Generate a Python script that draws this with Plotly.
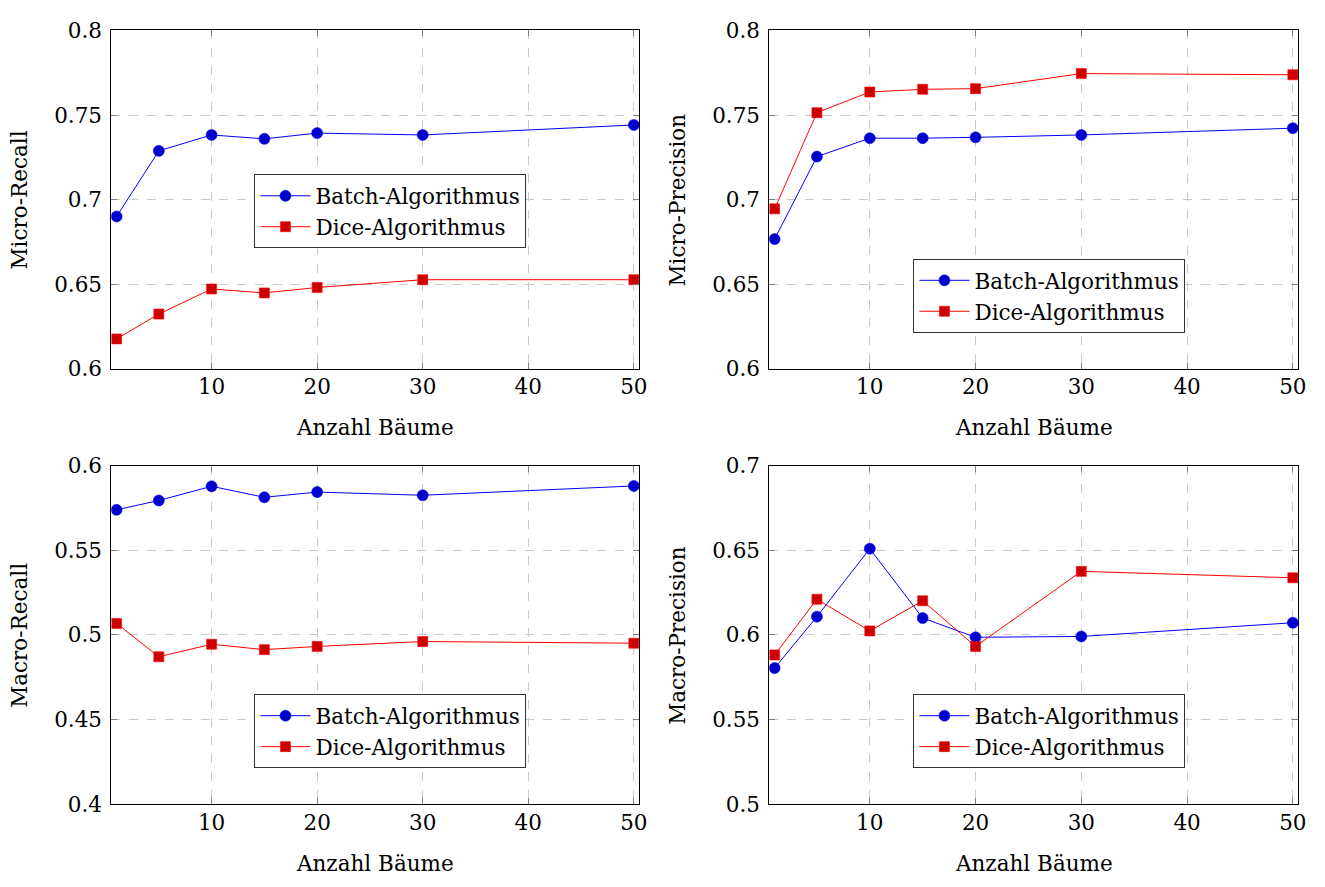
import plotly.graph_objects as go
from plotly.subplots import make_subplots

# ---- data ----
trees = [1, 5, 10, 15, 20, 30, 50]

micro_recall_batch = [0.690, 0.7288, 0.7382, 0.7359, 0.7393, 0.7382, 0.7441]
micro_recall_dice = [0.6176, 0.6323, 0.6471, 0.6448, 0.6480, 0.6526, 0.6526]

micro_precision_batch = [0.6766, 0.7254, 0.7363, 0.7363, 0.7368, 0.7382, 0.7422]
micro_precision_dice = [0.6945, 0.7514, 0.7636, 0.7652, 0.7656, 0.7745, 0.7738]

macro_recall_batch = [0.5740, 0.5795, 0.5879, 0.5814, 0.5845, 0.5826, 0.5881]
macro_recall_dice = [0.5068, 0.4871, 0.4945, 0.4913, 0.4932, 0.4961, 0.4951]

macro_precision_batch = [0.5804, 0.6108, 0.6510, 0.6100, 0.5986, 0.5991, 0.6072]
macro_precision_dice = [0.5882, 0.6211, 0.6024, 0.6202, 0.5932, 0.6376, 0.6338]

series_names = ["Batch-Algorithmus", "Dice-Algorithmus"]
x_tick_vals = [10, 20, 30, 40, 50]
x_tick_text = ["10", "20", "30", "40", "50"]
y_ticks_micro = [0.6, 0.65, 0.7, 0.75, 0.8]
y_ticks_micro_text = ["0.6", "0.65", "0.7", "0.75", "0.8"]
y_ticks_macro_recall = [0.4, 0.45, 0.5, 0.55, 0.6]
y_ticks_macro_recall_text = ["0.4", "0.45", "0.5", "0.55", "0.6"]
y_ticks_macro_precision = [0.5, 0.55, 0.6, 0.65, 0.7]
y_ticks_macro_precision_text = ["0.5", "0.55", "0.6", "0.65", "0.7"]
x_title = "Anzahl Bäume"
y_titles = ["Micro-Recall", "Micro-Precision", "Macro-Recall", "Macro-Precision"]

# ---- styling ----
W, H = 1325, 887
FONT = "DejaVu Serif"
FS = 21.5
BLUE_LINE, BLUE_FILL = "#0000ff", "#0000cc"
RED_LINE, RED_FILL = "#ff0000", "#cc0000"

panels = [
    (1, 1, micro_recall_batch, micro_recall_dice, y_ticks_micro, y_ticks_micro_text, "legend"),
    (1, 2, micro_precision_batch, micro_precision_dice, y_ticks_micro, y_ticks_micro_text, "legend2"),
    (2, 1, macro_recall_batch, macro_recall_dice, y_ticks_macro_recall, y_ticks_macro_recall_text, "legend3"),
    (2, 2, macro_precision_batch, macro_precision_dice, y_ticks_macro_precision, y_ticks_macro_precision_text, "legend4"),
]

fig = make_subplots(rows=2, cols=2)

# pixel geometry of the plot areas
col_px = {1: (112, 643), 2: (774, 1306)}
row_px = {1: (19, 367), 2: (467, 815)}

for r, c, batch, dice, yt, ytt, leg in panels:
    fig.add_trace(go.Scatter(
        x=trees, y=batch, mode="lines+markers", name=series_names[0], legend=leg,
        line=dict(color=BLUE_LINE, width=1),
        marker=dict(symbol="circle", size=11, color=BLUE_FILL, line=dict(color=BLUE_LINE, width=0.6)),
    ), row=r, col=c)
    fig.add_trace(go.Scatter(
        x=trees, y=dice, mode="lines+markers", name=series_names[1], legend=leg,
        line=dict(color=RED_LINE, width=1),
        marker=dict(symbol="square", size=10, color=RED_FILL, line=dict(color=RED_LINE, width=0.6)),
    ), row=r, col=c)

    x0, x1 = col_px[c]
    y0, y1 = row_px[r]
    axis_common = dict(
        showline=True, mirror="ticks", linecolor="black", linewidth=1,
        ticks="inside", ticklen=6, tickcolor="#808080", tickwidth=1,
        showgrid=True, gridcolor="#cacaca", griddash="dash", gridwidth=1,
        zeroline=False,
        tickfont=dict(family=FONT, size=FS, color="black"),
    )
    fig.update_xaxes(
        domain=[x0 / W, x1 / W], range=[0.5, 50.5],
        tickmode="array", tickvals=x_tick_vals, ticktext=x_tick_text,
        ticklabelstandoff=-1,
        row=r, col=c, **axis_common,
    )
    fig.update_yaxes(
        domain=[1 - y1 / H, 1 - y0 / H], range=[yt[0], yt[-1]],
        tickmode="array", tickvals=yt, ticktext=ytt,
        ticklabelstandoff=4,
        row=r, col=c, **axis_common,
    )

# legends
leg_pos = {
    "legend": (256, 167),
    "legend2": (919, 254),
    "legend3": (256, 702),
    "legend4": (919, 702),
}
legend_layout = {}
for name, (lx, ly) in leg_pos.items():
    legend_layout[name] = dict(
        x=lx / W, y=1 - ly / H, xanchor="left", yanchor="top",
        xref="paper", yref="paper",
        bordercolor="#333333", borderwidth=1, bgcolor="white",
        font=dict(family=FONT, size=FS, color="black"),
        itemwidth=50, tracegroupgap=0,
    )

# axis titles as annotations
annotations = []
for r, c in [(1, 1), (1, 2), (2, 1), (2, 2)]:
    x0, x1 = col_px[c]
    y0, y1 = row_px[r]
    annotations.append(dict(
        text=x_title, x=(x0 + x1) / 2 / W, y=1 - (y1 + 61) / H,
        xref="paper", yref="paper", xanchor="center", yanchor="middle",
        showarrow=False, font=dict(family=FONT, size=FS, color="black"),
    ))
    annotations.append(dict(
        text=y_titles[(r - 1) * 2 + (c - 1)], x=(x0 - 92) / W, y=1 - (y0 + y1) / 2 / H,
        xref="paper", yref="paper", xanchor="center", yanchor="middle",
        textangle=-90, showarrow=False, font=dict(family=FONT, size=FS, color="black"),
    ))

fig.update_layout(
    width=W, height=H,
    margin=dict(l=0, r=0, t=0, b=0),
    paper_bgcolor="white", plot_bgcolor="white",
    showlegend=True,
    annotations=annotations,
    **legend_layout,
)

fig.write_html("out.html")
